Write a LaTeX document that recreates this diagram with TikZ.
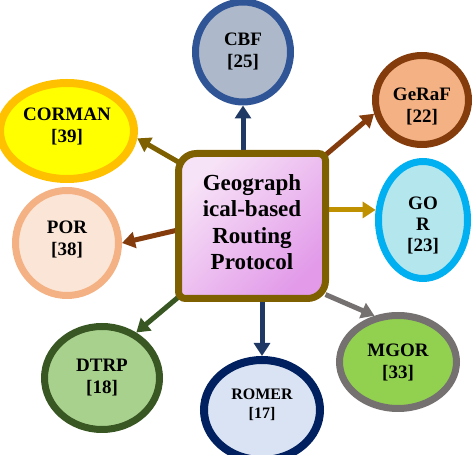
\documentclass[tikz,border=0pt]{standalone}
\usepackage{fontspec}
\setmainfont{Liberation Serif}
\usetikzlibrary{shapes.geometric,arrows.meta}
\definecolor{olivebr}{HTML}{7F6000}
\definecolor{boxlight}{HTML}{F7E3F7}
\definecolor{boxdark}{HTML}{E29AE9}
\definecolor{cbfborder}{HTML}{2F5597}
\definecolor{cbffill}{HTML}{ADB9CA}
\definecolor{navyarrow}{HTML}{203864}
\definecolor{brownc}{HTML}{843C0C}
\definecolor{geraffill}{HTML}{F4B183}
\definecolor{gorborder}{HTML}{00B0F0}
\definecolor{gorfill}{HTML}{B4E6EE}
\definecolor{goldarrow}{HTML}{BF9000}
\definecolor{cormanborder}{HTML}{FFC000}
\definecolor{cormanfill}{HTML}{FFFF00}
\definecolor{porborder}{HTML}{F4B183}
\definecolor{porfill}{HTML}{FBE5D6}
\definecolor{dtrpborder}{HTML}{385723}
\definecolor{dtrpfill}{HTML}{A9D18E}
\definecolor{romerborder}{HTML}{002060}
\definecolor{romerfill}{HTML}{DAE3F3}
\definecolor{mgorborder}{HTML}{767171}
\definecolor{mgorfill}{HTML}{92D050}
\tikzset{
  bubble/.style={ellipse, line width=7pt, inner sep=0pt},
  btext/.style={align=center, inner sep=0pt,
    font=\rmfamily\fontsize{19}{22}\selectfont\bfseries, text=black},
  conn/.style={line width=5pt, -{Triangle[length=13pt,width=16pt]}},
}
\begin{document}
\begin{tikzpicture}[x=1pt,y=1pt]
\useasboundingbox (0,0) rectangle (474,455);
% central node (invisible frame used for anchors)
\node[rectangle, minimum width=147pt, minimum height=145pt, inner sep=0pt, outer sep=0pt] (main) at (252,229) {};
% outer nodes
\node[bubble, draw=cbfborder, fill=cbffill, minimum width=95pt, minimum height=100pt] (cbf) at (243,403) {};
\node[bubble, draw=brownc, fill=geraffill, minimum width=93pt, minimum height=89pt] (geraf) at (422,355) {};
\node[bubble, draw=gorborder, fill=gorfill, minimum width=89pt, minimum height=117pt] (gor) at (423,235) {};
\node[bubble, draw=cormanborder, fill=cormanfill, line width=8pt, minimum width=134pt, minimum height=96pt] (corman) at (67,324) {};
\node[bubble, draw=porborder, fill=porfill, minimum width=103pt, minimum height=105pt] (por) at (67,212) {};
\node[bubble, draw=dtrpborder, fill=dtrpfill, minimum width=115pt, minimum height=103pt] (dtrp) at (102,77) {};
\node[bubble, draw=romerborder, fill=romerfill, line width=8pt, minimum width=116pt, minimum height=100pt] (romer) at (262,45) {};
\node[bubble, draw=mgorborder, fill=mgorfill, minimum width=117pt, minimum height=93pt] (mgor) at (398,93) {};
% texts of outer nodes
\node[btext] (cbf-t) at ([yshift=1pt]cbf.center) {CBF\\{}[25]};
\node[btext] (geraf-t) at ([yshift=-6pt]geraf.center) {GeRaF\\{}[22]};
\node[btext, font=\rmfamily\fontsize{19}{21}\selectfont\bfseries] (gor-t) at ([yshift=-5pt]gor.center) {GO\\R\\{}[23]};
\node[btext] (corman-t) at ([yshift=5pt]corman.center) {CORMAN\\{}[39]};
\node[btext] (por-t) at ([yshift=4pt]por.center) {POR\\{}[38]};
\node[btext] (dtrp-t) at (dtrp.center) {DTRP\\{}[18]};
\node[btext, font=\rmfamily\fontsize{16}{19}\selectfont\bfseries] (romer-t) at ([yshift=5pt]romer.center) {ROMER\\{}[17]};
\node[btext] (mgor-t) at (mgor.center) {MGOR\\{}[33]};
% connectors
\draw[conn, navyarrow] (cbf.south |- main.north) -- (cbf.south);
\draw[conn, brownc] (main.44) -- (geraf.196);
\draw[conn, goldarrow] (main.east |- gor.168) -- (gor.168);
\draw[conn, olivebr] (main.139) -- (corman.-6);
\draw[conn, brownc] (main.183) -- (por.east);
\draw[conn, dtrpborder] (main.224) -- (dtrp.53);
\draw[conn, navyarrow] (romer.north |- main.south) -- (romer.north);
\draw[conn, mgorborder] (main.-43) -- (mgor.117);
% central box shape
\path[top color=boxlight, bottom color=boxdark, shading angle=45]
  (196.5,301.5) -- (318.5,301.5) arc[start angle=90,end angle=0,radius=7]
  -- (325.5,174.5) arc[start angle=0,end angle=-90,radius=18]
  -- (185.5,156.5) arc[start angle=270,end angle=180,radius=7]
  -- (178.5,283.5) arc[start angle=180,end angle=90,radius=18] -- cycle;
\draw[olivebr, line width=7pt]
  (196.5,301.5) -- (318.5,301.5) arc[start angle=90,end angle=0,radius=7]
  -- (325.5,174.5) arc[start angle=0,end angle=-90,radius=18]
  -- (185.5,156.5) arc[start angle=270,end angle=180,radius=7]
  -- (178.5,283.5) arc[start angle=180,end angle=90,radius=18] -- cycle;
\node[btext, font=\rmfamily\fontsize{23}{26.5}\selectfont\bfseries] (main-t) at ([yshift=4pt]main.center) {Geograph\\ical-based\\Routing\\Protocol};
\end{tikzpicture}
\end{document}
